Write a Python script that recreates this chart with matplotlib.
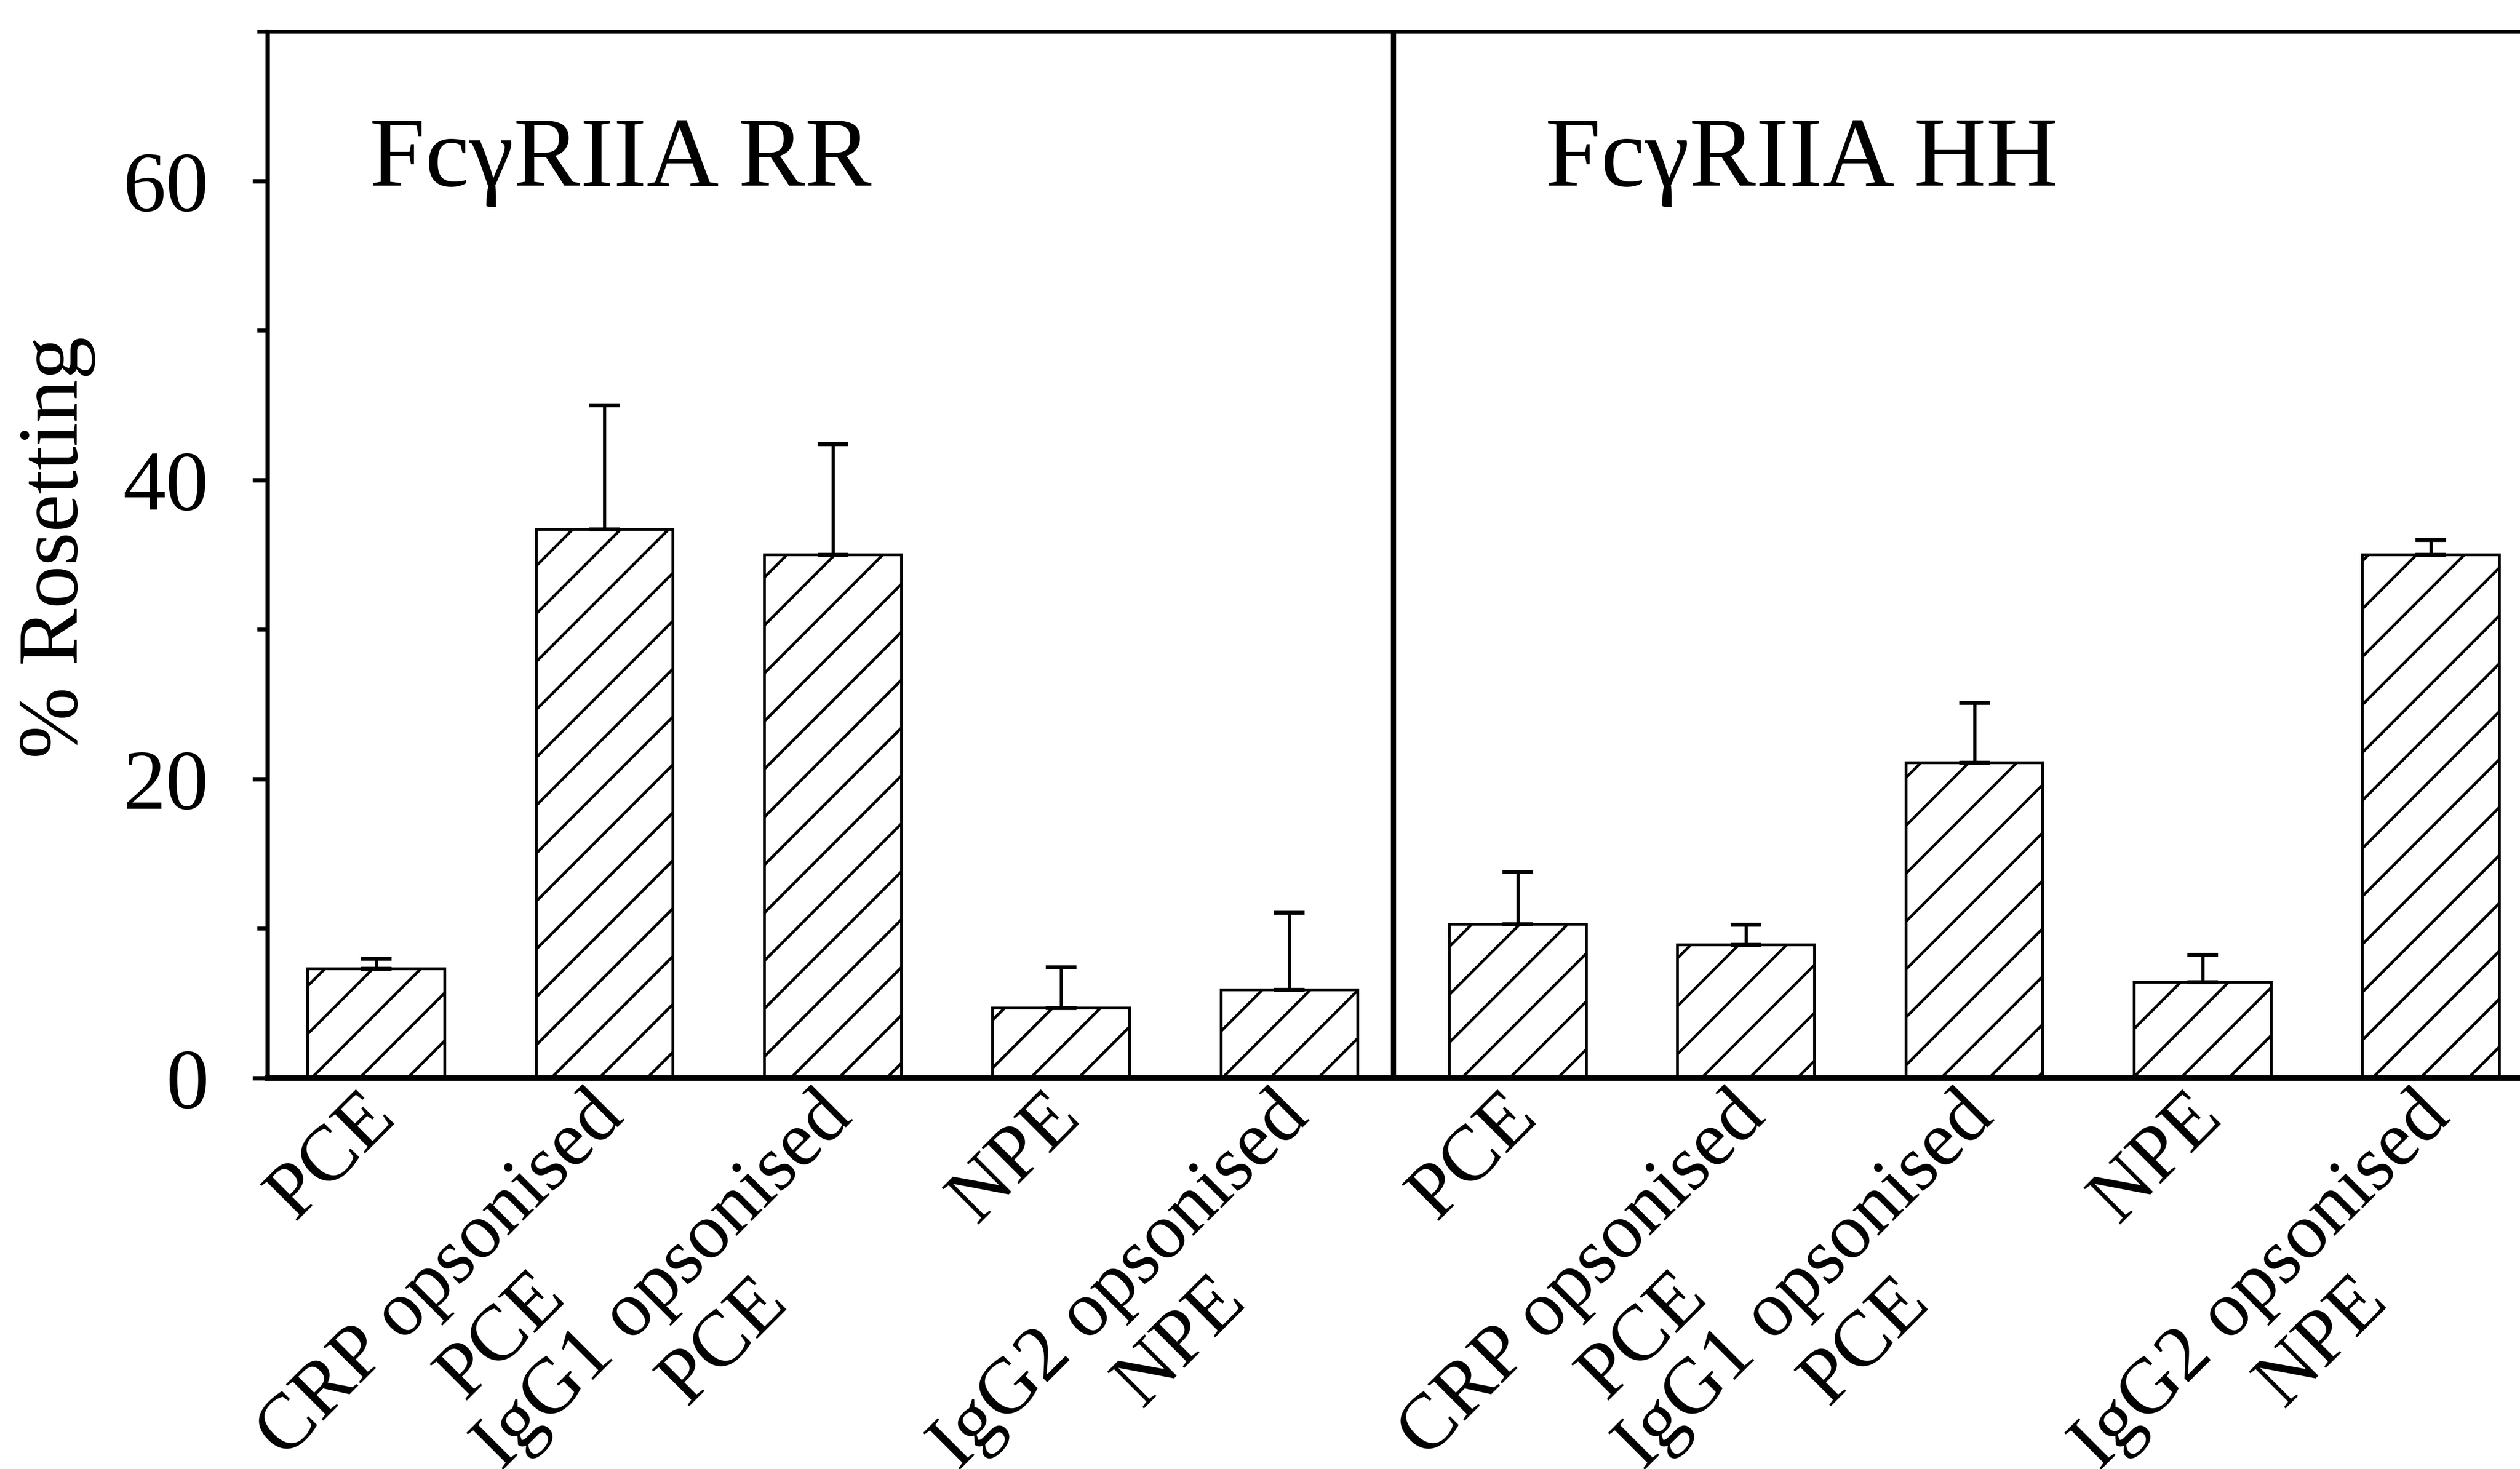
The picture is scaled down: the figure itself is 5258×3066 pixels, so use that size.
import matplotlib
matplotlib.use("Agg")
import matplotlib.pyplot as plt
import matplotlib.transforms as mtransforms
import numpy as np
from matplotlib.ticker import MultipleLocator

plt.rcParams['font.family'] = ['Liberation Serif', 'DejaVu Serif']
plt.rcParams['hatch.linewidth'] = 0.7

# data
labels = ["PCE", "CRP opsonised\nPCE", "IgG1 opsonised\nPCE", "NPE", "IgG2 opsonised\nNPE",
          "PCE", "CRP opsonised\nPCE", "IgG1 opsonised\nPCE", "NPE", "IgG2 opsonised\nNPE"]
rr_means = [7.3, 36.7, 35.0, 4.7, 5.9]
rr_err = [0.7, 8.3, 7.4, 2.7, 5.15]
hh_means = [10.3, 8.9, 21.1, 6.4, 35.0]
hh_err = [3.5, 1.35, 4.0, 1.85, 1.0]
panel_names = ["FcγRIIA RR", "FcγRIIA HH"]

means = np.array(rr_means + hh_means)
errs = np.array(rr_err + hh_err)
x = np.arange(len(means))

fig = plt.figure(figsize=(5258 / 600, 3066 / 600), dpi=600)
ax = fig.add_axes([0.1061, 0.2661, 1 - 0.1061, 0.7123])

ax.bar(x, means, width=0.6, color='white', edgecolor='black', hatch='//', linewidth=0.7, zorder=2)
ax.errorbar(x, means, yerr=[np.zeros_like(errs), errs], fmt='none', ecolor='black',
            elinewidth=0.8, capsize=3.8, capthick=1.0, zorder=3)

# divider between the two genotypes
ax.axvline(4.455, ymin=0.3 / 70, ymax=1, color='black', lw=1.3)

ax.text(-0.03, 59.7, panel_names[0], fontsize=25, va='baseline', ha='left')
ax.text(5.12, 59.7, panel_names[1], fontsize=25, va='baseline', ha='left')

ax.set_xlim(-0.477, 9.39)
ax.set_ylim(0, 70)
ax.set_yticks([0, 20, 40, 60])
ax.yaxis.set_minor_locator(MultipleLocator(10))
ax.tick_params(axis='y', which='major', direction='out', length=3.7, width=1.1, pad=11, labelsize=21.5)
ax.tick_params(axis='y', which='minor', direction='out', length=2.5, width=1.0)

ax.set_xticks(x)
ax.set_xticklabels(labels, rotation=45, ha='right', va='top', rotation_mode='anchor',
                   multialignment='center', fontsize=19.8, linespacing=1.25)
ax.tick_params(axis='x', length=0, pad=0.5)
shift = mtransforms.ScaledTranslation(-4.5 / 72, 0, fig.dpi_scale_trans)
for lab in ax.get_xticklabels():
    lab.set_transform(lab.get_transform() + shift)

ax.spines['right'].set_visible(False)
ax.spines['top'].set_linewidth(1.0)
ax.spines['left'].set_linewidth(1.1)
ax.spines['bottom'].set_linewidth(1.4)

fig.text(118 / 5258, 1 - 1143 / 3066, '% Rosetting', rotation=90, ha='center', va='center', fontsize=21.5)

fig.savefig('out.png', dpi=600)
